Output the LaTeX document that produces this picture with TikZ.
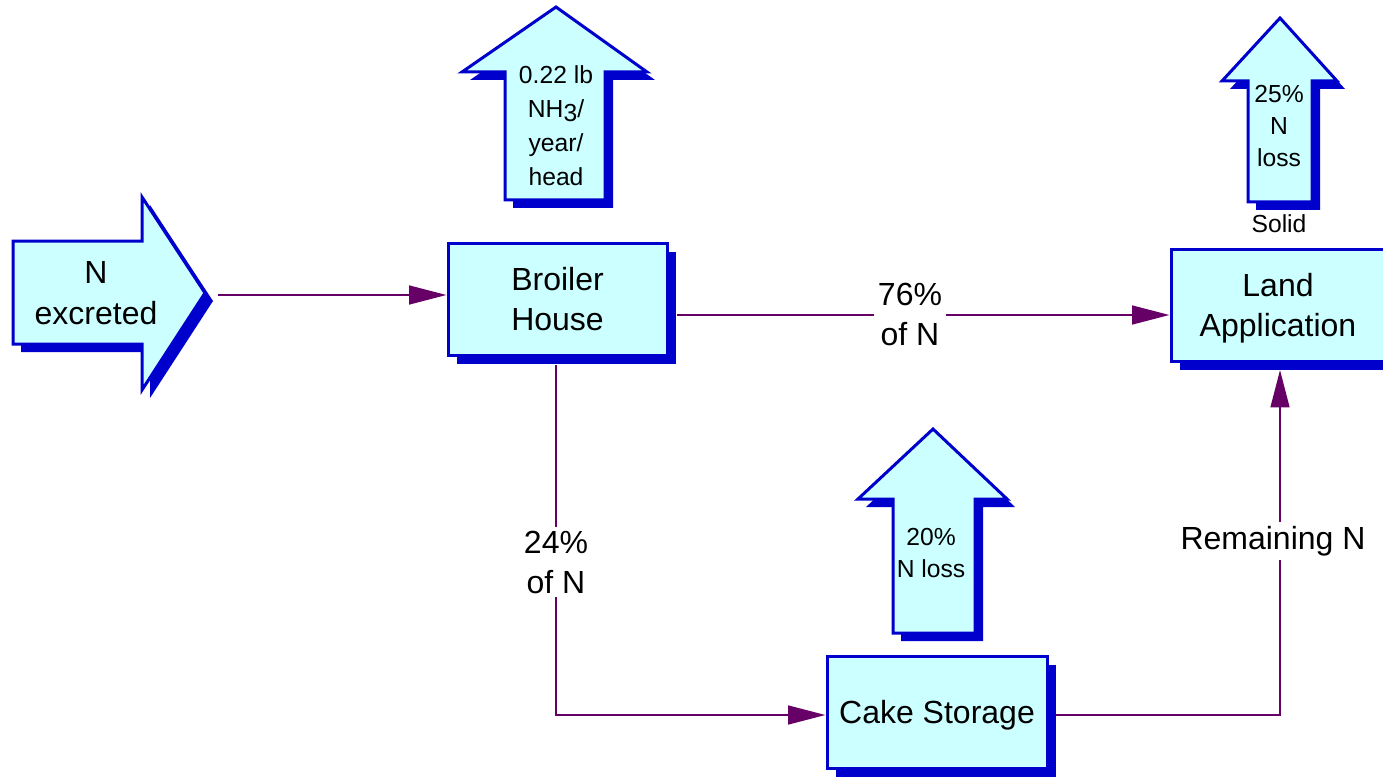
\documentclass[tikz,border=0pt]{standalone}
\usepackage{fontspec}
\setmainfont{Liberation Sans}
\usetikzlibrary{arrows.meta,shadows,calc}
\definecolor{cyanfill}{HTML}{CCFFFF}
\definecolor{bordblue}{HTML}{0000CC}
\definecolor{shadowblue}{HTML}{0000CC}
\definecolor{connpurple}{HTML}{660066}
\newcommand\fbig{\fontsize{24}{30}\selectfont}
\newcommand\fsmall{\fontsize{18.5}{24}\selectfont}
\newcommand\fsmallb{\fontsize{18.5}{25.5}\selectfont}
\tikzset{
  blk/.style={draw=bordblue, line width=2.25pt, fill=cyanfill, line join=miter,
    general shadow={fill=shadowblue, shadow xshift=6pt, shadow yshift=-6pt}},
  boxnode/.style={draw=bordblue, line width=2.25pt, fill=cyanfill, rectangle,
    general shadow={fill=shadowblue, shadow xshift=6.75pt, shadow yshift=-6.75pt},
    minimum height=84pt, align=center, font=\fbig, inner sep=0pt},
  conn/.style={draw=connpurple, line width=1.8pt, -{Triangle[length=28pt,width=14pt]}},
  lbl/.style={fill=white, align=center, font=\fbig, inner sep=3pt},
  arrtext/.style={align=center, font=\fsmall, inner sep=0pt}
}
\begin{document}
\begin{tikzpicture}[x=0.75pt,y=-0.75pt]
\useasboundingbox (0,0) rectangle (1383,777);
\clip (0,0) rectangle (1383,777);
% block arrows
\path[blk] (13,241) -- (142,241) -- (142,197) -- (205,293) -- (142,390) -- (142,344) -- (13,344) -- cycle;
\node[align=center, font=\fbig, inner sep=0pt] (nextext) at (96,293) {N\\[1pt]excreted};
\coordinate (nex) at (218,295);

\path[blk] (556,7) -- (647,72) -- (605,72) -- (605,200) -- (505,200) -- (505,72) -- (462,72) -- cycle;
\node[arrtext, font=\fsmallb] (nh3) at (556,126) {0.22 lb\\NH\raisebox{-0.3ex}{3}/\\year/\\head};

\path[blk] (933,429) -- (1007,499) -- (975,499) -- (975,633) -- (893,633) -- (893,499) -- (858,499) -- cycle;
\node[arrtext] (loss20) at (931,553) {20\%\\N loss};

\path[blk] (1280,18) -- (1337,81) -- (1312,81) -- (1312,202) -- (1248,202) -- (1248,81) -- (1222,81) -- cycle;
\node[arrtext] (loss25) at (1279,126) {25\%\\N\\loss};
\node[font=\fsmall, inner sep=0pt] (solid) at (1279,224) {Solid};

% boxes
\node[boxnode, minimum width=164.25pt] (broiler) at (557.5,299) {Broiler\\House};
\node[boxnode, minimum width=165pt, text depth=0pt] (cake) at (937,712) {Cake Storage};
\node[boxnode, minimum width=160.5pt, text depth=0pt] (land) at (1278,305) {Land\\Application};

% connectors
\draw[conn] (nex) -- (nex -| broiler.west);

\coordinate (b2) at (677,315);
\draw[conn] (b2) -- (b2 -| land.west);
\node[lbl] (l76) at (910,314) {76\%\\of N};

\coordinate (b3) at (556,365);
\coordinate (c3) at (cake.west |- 0,715);
\draw[conn] (b3) |- (c3);
\node[lbl] (l24) at (556,562) {24\%\\of N};

\coordinate (c4) at (1056,715);
\coordinate (l4) at (1280,370);
\draw[conn] (c4) -| (l4);
\node[lbl] (lrem) at (1273,541) {Remaining N};
\end{tikzpicture}
\end{document}
